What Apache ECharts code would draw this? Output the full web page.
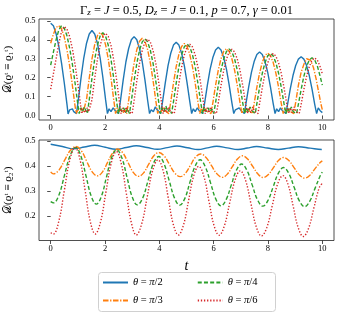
<!DOCTYPE html>
<html><head><meta charset="utf-8">
<script src="https://cdn.jsdelivr.net/npm/echarts@6/dist/echarts.min.js"></script>
<style>html,body{margin:0;padding:0;background:#fff}#c{width:342px;height:318px}</style>
</head><body><div id="c"></div>
<script>
// ---- data ----
const seriesNames = ['θ = π/2', 'θ = π/3', 'θ = π/4', 'θ = π/6'];
const xTicks = [0, 2, 4, 6, 8, 10];
const yTicksTop = [0.0, 0.1, 0.2, 0.3, 0.4, 0.5];
const yTicksBottom = [0.2, 0.3, 0.4, 0.5];

// top panel: D(rho^t = rho_1^t)
const blueTopT = [0,0.1,0.2,0.3,0.4,0.5,0.6,0.64, 0.7,0.75,0.8,0.85,0.9,0.95,
  1.02,1.12,1.22,1.32,1.42,1.52,1.62,1.72,1.82,1.92,2.02,2.09, 2.15,2.22,2.3,2.38,2.45,2.5,
  2.57,2.67,2.77,2.87,2.97,3.07,3.17,3.27,3.37,3.47,3.57,3.64, 3.7,3.78,3.85,3.92,3.99,4.05,
  4.12,4.22,4.32,4.42,4.52,4.62,4.72,4.82,4.92,5.02,5.12,5.19, 5.25,5.32,5.4,5.47,5.54,5.6,
  5.67,5.77,5.87,5.97,6.07,6.17,6.27,6.37,6.47,6.57,6.67,6.74, 6.8,6.87,6.94,7.01,7.08,7.13,
  7.19,7.29,7.39,7.49,7.59,7.69,7.79,7.89,7.99,8.09,8.19,8.26, 8.32,8.39,8.46,8.53,8.6,8.66,
  8.72,8.82,8.92,9.02,9.12,9.22,9.32,9.42,9.52,9.62,9.72,9.79, 9.85,9.92,10.0];
const blueTopV = [0.488,0.474,0.432,0.365,0.277,0.173,0.059,0.008, 0.03,0.025,0.035,0.02,0.03,0.01,
  0.085,0.202,0.305,0.382,0.431,0.449,0.431,0.382,0.305,0.202,0.085,0.01, 0.035,0.02,0.04,0.025,0.03,0.01,
  0.079,0.188,0.284,0.354,0.40,0.417,0.40,0.354,0.284,0.188,0.079,0.01, 0.03,0.02,0.045,0.03,0.035,0.01,
  0.074,0.174,0.263,0.329,0.372,0.387,0.372,0.329,0.263,0.174,0.074,0.01, 0.035,0.02,0.04,0.025,0.03,0.01,
  0.068,0.162,0.245,0.306,0.346,0.36,0.346,0.306,0.245,0.162,0.068,0.01, 0.03,0.02,0.04,0.025,0.035,0.01,
  0.064,0.151,0.228,0.285,0.322,0.335,0.322,0.285,0.228,0.151,0.064,0.01, 0.035,0.02,0.04,0.025,0.03,0.01,
  0.059,0.14,0.211,0.264,0.298,0.31,0.298,0.264,0.211,0.14,0.059,0.01, 0.04,0.025,0.015];

const orangeTopT = [0,0.1,0.2,0.29,0.39,0.49,0.59,0.69,0.79,0.89,0.94, 1.0,1.07,1.13,1.2,1.25,
  1.32,1.42,1.52,1.62,1.72,1.82,1.92,2.02,2.12,2.22,2.32,2.39, 2.45,2.52,2.6,2.67,2.74,2.8,
  2.87,2.97,3.07,3.17,3.27,3.37,3.47,3.57,3.67,3.77,3.87,3.94, 4.0,4.07,4.14,4.21,4.28,4.35,
  4.42,4.52,4.62,4.72,4.82,4.92,5.02,5.12,5.22,5.32,5.42,5.49, 5.55,5.62,5.7,5.77,5.84,5.9,
  5.97,6.07,6.17,6.27,6.37,6.47,6.57,6.67,6.77,6.87,6.97,7.04, 7.1,7.17,7.24,7.31,7.38,7.43,
  7.49,7.59,7.69,7.79,7.89,7.99,8.09,8.19,8.29,8.39,8.49,8.56, 8.62,8.69,8.76,8.83,8.9,8.95,
  9.02,9.12,9.22,9.32,9.42,9.47,9.57,9.67,9.77,9.87,9.95,10.0];
const orangeTopV = [0.382,0.43,0.465,0.475,0.461,0.421,0.355,0.27,0.169,0.057,0.01, 0.03,0.015,0.04,0.02,0.01,
  0.084,0.198,0.299,0.374,0.422,0.44,0.422,0.374,0.299,0.198,0.084,0.01, 0.04,0.02,0.035,0.015,0.03,0.01,
  0.078,0.184,0.277,0.347,0.392,0.408,0.392,0.347,0.277,0.184,0.078,0.01, 0.035,0.02,0.045,0.025,0.03,0.01,
  0.072,0.171,0.258,0.323,0.365,0.38,0.365,0.323,0.258,0.171,0.072,0.01, 0.04,0.02,0.035,0.02,0.03,0.01,
  0.067,0.159,0.24,0.30,0.339,0.353,0.339,0.30,0.24,0.159,0.067,0.01, 0.035,0.02,0.04,0.025,0.03,0.01,
  0.063,0.149,0.224,0.281,0.317,0.33,0.317,0.281,0.224,0.149,0.063,0.01, 0.04,0.02,0.035,0.02,0.03,0.01,
  0.07,0.16,0.228,0.27,0.3,0.307,0.292,0.255,0.195,0.12,0.06,0.03];

const greenTopT = [0,0.1,0.2,0.3,0.4,0.5,0.6,0.7,0.8,0.9,1.0,1.05, 1.1,1.17,1.24,1.3,1.35,
  1.42,1.52,1.62,1.72,1.82,1.92,2.02,2.12,2.22,2.32,2.42,2.49, 2.55,2.62,2.69,2.76,2.83,2.9,
  2.97,3.07,3.17,3.27,3.37,3.47,3.57,3.67,3.77,3.87,3.97,4.04, 4.1,4.17,4.24,4.31,4.38,4.45,
  4.52,4.62,4.72,4.82,4.92,5.02,5.12,5.22,5.32,5.42,5.52,5.59, 5.65,5.72,5.79,5.86,5.93,6.0,
  6.07,6.17,6.27,6.37,6.47,6.57,6.67,6.77,6.87,6.97,7.07,7.14, 7.2,7.27,7.34,7.41,7.48,7.53,
  7.59,7.69,7.79,7.89,7.99,8.09,8.19,8.29,8.39,8.49,8.59,8.66, 8.72,8.79,8.86,8.93,9.0,9.05,
  9.12,9.22,9.32,9.42,9.52,9.62,9.72,9.82,9.92,10.0];
const greenTopV = [0.266,0.335,0.4,0.452,0.475,0.461,0.421,0.355,0.27,0.169,0.057,0.01, 0.04,0.02,0.045,0.025,0.01,
  0.083,0.197,0.297,0.371,0.42,0.437,0.42,0.371,0.297,0.197,0.083,0.01, 0.045,0.02,0.04,0.015,0.035,0.01,
  0.077,0.182,0.275,0.344,0.389,0.405,0.389,0.344,0.275,0.182,0.077,0.01, 0.04,0.02,0.05,0.02,0.035,0.01,
  0.072,0.17,0.257,0.321,0.363,0.378,0.363,0.321,0.257,0.17,0.072,0.01, 0.045,0.02,0.04,0.02,0.035,0.01,
  0.067,0.158,0.239,0.299,0.338,0.352,0.338,0.299,0.239,0.158,0.067,0.01, 0.04,0.02,0.045,0.025,0.03,0.01,
  0.062,0.148,0.223,0.279,0.315,0.328,0.315,0.279,0.223,0.148,0.062,0.01, 0.04,0.02,0.045,0.02,0.03,0.01,
  0.06,0.137,0.207,0.26,0.293,0.305,0.293,0.26,0.207,0.16];

const redTopT = [0,0.1,0.2,0.3,0.4,0.5,0.6,0.7,0.8,0.9,1.0,1.1,1.15, 1.2,1.27,1.34,1.4,1.45,
  1.52,1.62,1.72,1.82,1.92,2.02,2.12,2.22,2.32,2.42,2.52,2.59, 2.65,2.72,2.79,2.86,2.93,3.0,
  3.07,3.17,3.27,3.37,3.47,3.57,3.67,3.77,3.87,3.97,4.07,4.14, 4.2,4.27,4.34,4.41,4.48,4.55,
  4.62,4.72,4.82,4.92,5.02,5.12,5.22,5.32,5.42,5.52,5.62,5.69, 5.75,5.82,5.89,5.96,6.03,6.1,
  6.17,6.27,6.37,6.47,6.57,6.67,6.77,6.87,6.97,7.07,7.17,7.24, 7.3,7.37,7.44,7.51,7.58,7.63,
  7.69,7.79,7.89,7.99,8.09,8.19,8.29,8.39,8.49,8.59,8.69,8.76, 8.82,8.89,8.96,9.03,9.1,9.15,
  9.22,9.32,9.42,9.52,9.62,9.72,9.82,9.92,10.0];
const redTopV = [0.139,0.22,0.30,0.38,0.445,0.47,0.456,0.416,0.352,0.267,0.167,0.056,0.01, 0.035,0.015,0.04,0.02,0.01,
  0.083,0.196,0.296,0.37,0.418,0.435,0.418,0.37,0.296,0.196,0.083,0.01, 0.04,0.015,0.045,0.02,0.03,0.01,
  0.077,0.182,0.275,0.343,0.388,0.404,0.388,0.343,0.275,0.182,0.077,0.01, 0.04,0.015,0.045,0.02,0.03,0.01,
  0.072,0.17,0.256,0.32,0.362,0.377,0.362,0.32,0.256,0.17,0.072,0.01, 0.04,0.015,0.045,0.02,0.03,0.01,
  0.067,0.158,0.238,0.298,0.336,0.35,0.336,0.298,0.238,0.158,0.067,0.01, 0.04,0.015,0.045,0.02,0.03,0.01,
  0.062,0.147,0.222,0.278,0.314,0.327,0.314,0.278,0.222,0.147,0.062,0.01, 0.04,0.015,0.045,0.02,0.03,0.01,
  0.058,0.137,0.207,0.258,0.292,0.304,0.292,0.258,0.22];

// bottom panel: D(rho^t = rho_2^t)
const blueBotT = [0,0.43,0.85,1.24,1.62,2.01,2.4,2.78,3.15,3.55,3.93,4.29,4.65,5.04,5.43,5.77,6.11,6.5,6.9,7.24,7.58,7.98,8.38,8.75,9.12,9.55,9.98,10];
const blueBotV = [0.486,0.477,0.468,0.475,0.482,0.474,0.466,0.473,0.48,0.473,0.466,0.4725,0.479,0.472,0.465,0.4715,0.478,0.4715,0.465,0.471,0.477,0.471,0.465,0.4705,0.476,0.4705,0.465,0.465];

const orangeBotT = [0,0.1,0.31,0.515,0.72,0.93,1.13,1.325,1.52,1.72,1.91,2.095,2.28,2.47,2.66,2.85,3.04,3.23,3.42,3.605,3.79,3.98,4.18,4.375,4.57,4.77,4.96,5.145,5.33,5.52,5.72,5.92,6.12,6.32,6.505,6.69,6.875,7.06,7.25,7.445,7.64,7.83,8.015,8.2,8.385,8.57,8.77,8.965,9.16,9.36,9.55,9.74,9.93,10];
const orangeBotV = [0.376,0.368,0.384,0.4225,0.461,0.477,0.46,0.4185,0.377,0.36,0.376,0.4135,0.451,0.467,0.451,0.4125,0.374,0.358,0.372,0.4055,0.439,0.453,0.439,0.405,0.371,0.357,0.37,0.402,0.434,0.447,0.433,0.4005,0.368,0.354,0.367,0.397,0.427,0.44,0.427,0.3965,0.366,0.353,0.365,0.393,0.421,0.433,0.421,0.392,0.363,0.351,0.363,0.39,0.414,0.42];

const greenBotT = [0,0.1,0.305,0.51,0.715,0.92,1.11,1.3,1.49,1.68,1.87,2.055,2.24,2.43,2.62,2.81,3.0,3.19,3.39,3.585,3.78,3.98,4.17,4.365,4.56,4.75,4.94,5.125,5.31,5.5,5.69,5.885,6.08,6.27,6.46,6.65,6.84,7.03,7.225,7.42,7.615,7.81,8.0,8.19,8.38,8.57,8.765,8.96,9.155,9.35,9.54,9.735,9.93,10];
const greenBotV = [0.257,0.252,0.284,0.363,0.441,0.473,0.44,0.36,0.28,0.247,0.279,0.356,0.432,0.464,0.432,0.354,0.276,0.244,0.272,0.341,0.409,0.437,0.409,0.34,0.271,0.243,0.27,0.334,0.397,0.424,0.397,0.332,0.267,0.24,0.265,0.324,0.383,0.407,0.382,0.323,0.264,0.239,0.262,0.316,0.37,0.393,0.37,0.315,0.26,0.237,0.259,0.311,0.362,0.375];

const redBotT = [0,0.1,0.3,0.5,0.7,0.9,1.085,1.27,1.455,1.64,1.835,2.03,2.225,2.42,2.6,2.785,2.97,3.15,3.35,3.55,3.75,3.95,4.14,4.325,4.51,4.7,4.89,5.075,5.26,5.45,5.64,5.825,6.01,6.2,6.395,6.59,6.785,6.98,7.175,7.37,7.565,7.76,7.96,8.155,8.35,8.55,8.74,8.925,9.11,9.3,9.495,9.69,9.885,10];
const redBotV = [0.133,0.128,0.179,0.30,0.422,0.473,0.422,0.30,0.179,0.128,0.176,0.293,0.409,0.457,0.408,0.29,0.173,0.124,0.168,0.274,0.38,0.424,0.38,0.274,0.168,0.124,0.164,0.261,0.358,0.398,0.358,0.26,0.163,0.123,0.161,0.252,0.342,0.38,0.342,0.25,0.158,0.12,0.155,0.24,0.326,0.361,0.325,0.24,0.154,0.118,0.151,0.232,0.312,0.33];

// ---- styles ----
const colors = ['#1f77b4', '#ff7f0e', '#2ca02c', '#d62728'];
const dashes = ['solid', [5.5, 1.6, 1.3, 1.6], [4, 2.2], [1.3, 1.8]];
const SERIF = '"Liberation Serif", "DejaVu Serif", serif';

function pairs(T, V) { return T.map((t, i) => [t, V[i]]); }
const topData = [pairs(blueTopT, blueTopV), pairs(orangeTopT, orangeTopV), pairs(greenTopT, greenTopV), pairs(redTopT, redTopV)];
const botData = [pairs(blueBotT, blueBotV), pairs(orangeBotT, orangeBotV), pairs(greenBotT, greenBotV), pairs(redBotT, redBotV)];

function mkSeries(data, idx, axis, smooth) {
  return {
    name: seriesNames[idx], type: 'line', xAxisIndex: axis, yAxisIndex: axis,
    data: data, symbol: 'none', showSymbol: false, smooth: smooth, silent: true,
    color: colors[idx],
    lineStyle: { color: colors[idx], width: 1.4, type: dashes[idx] },
    itemStyle: { color: colors[idx] }
  };
}
const series = [];
for (let i = 0; i < 4; i++) series.push(mkSeries(topData[i], i, 0, false));
for (let i = 0; i < 4; i++) series.push(mkSeries(botData[i], i, 1, 0.4));

const tickLabel = { show: true, fontFamily: SERIF, fontSize: 8.5, color: '#000', margin: 3.5 };
function xAxis(gi, name) {
  return {
    type: 'value', gridIndex: gi, min: -0.43, max: 10.43,
    axisLine: { show: false }, splitLine: { show: false },
    axisTick: { show: true, length: 3.5, lineStyle: { color: '#222', width: 0.8 }, customValues: xTicks },
    axisLabel: Object.assign({}, tickLabel, { customValues: xTicks, formatter: v => String(v) }),
    name: name, nameLocation: 'middle', nameGap: 19,
    nameTextStyle: { fontFamily: SERIF, fontStyle: 'italic', fontSize: 14, color: '#000' }
  };
}
function yAxis(gi, min, max, ticks, name) {
  return {
    type: 'value', gridIndex: gi, min: min, max: max,
    axisLine: { show: false }, splitLine: { show: false },
    axisTick: { show: true, length: 3.5, lineStyle: { color: '#222', width: 0.8 }, customValues: ticks },
    axisLabel: Object.assign({}, tickLabel, { customValues: ticks, formatter: v => v.toFixed(1) }),
    name: name, nameLocation: 'middle', nameGap: 23, nameRotate: 90,
    nameTextStyle: { fontFamily: SERIF, fontSize: 11, color: '#000' }
  };
}

const legendText = { fontFamily: SERIF, fontSize: 10.5, color: '#000',
  rich: { i: { fontFamily: SERIF, fontStyle: 'italic', fontSize: 10.5, color: '#000' } } };
const legendFmt = n => '{i|θ} = {i|π}/' + n.slice(-1);
const legendCommon = { left: 102, padding: 0, itemWidth: 25, itemHeight: 10, itemGap: 34,
  textStyle: legendText, formatter: legendFmt, selectedMode: false,
  itemStyle: { color: 'transparent', borderColor: 'transparent', borderWidth: 0, opacity: 0 } };

const option = {
  animation: false,
  backgroundColor: '#fff',
  grid: [
    { left: 39, width: 295, top: 19, height: 101, show: true, borderColor: '#222', borderWidth: 0.8,
      backgroundColor: 'transparent', outerBoundsMode: 'none', containLabel: false },
    { left: 39, width: 295, top: 140, height: 100.5, show: true, borderColor: '#222', borderWidth: 0.8,
      backgroundColor: 'transparent', outerBoundsMode: 'none', containLabel: false }
  ],
  xAxis: [xAxis(0, ''), xAxis(1, 't')],
  yAxis: [
    yAxis(0, -0.024, 0.51, yTicksTop, '𝒟(ϱᵗ ≡ ϱ₁ᵗ)'),
    yAxis(1, 0.102, 0.503, yTicksBottom, '𝒟(ϱᵗ ≡ ϱ₂ᵗ)')
  ],
  legend: [
    Object.assign({ data: [seriesNames[0], seriesNames[2]], top: 277 }, legendCommon),
    Object.assign({ data: [seriesNames[1], seriesNames[3]], top: 295 }, legendCommon)
  ],
  graphic: [
    { type: 'rect', z: 1, shape: { x: 98.5, y: 272.5, width: 177, height: 39, r: 3 },
      style: { fill: '#fff', stroke: '#d0d0d0', lineWidth: 1 } },
    { type: 'text', z: 5, x: 186.5, y: 11,
      style: {
        text: 'Γ{s|z} = {i|J} = 0.5, {i|D}{s|z} = {i|J} = 0.1, {i|p} = 0.7, {i|γ} = 0.01',
        font: '12.5px ' + SERIF, fill: '#000', align: 'center', verticalAlign: 'middle',
        rich: {
          i: { fontFamily: SERIF, fontStyle: 'italic', fontSize: 12.5, fill: '#000' },
          s: { fontFamily: SERIF, fontStyle: 'italic', fontSize: 9, fill: '#000', verticalAlign: 'bottom', lineHeight: 9, padding: [6, 0, 0, 0] }
        }
      } }
  ],
  series: series
};
const chart = echarts.init(document.getElementById('c'), null, { renderer: 'canvas' });
chart.setOption(option);
</script>
</body></html>
